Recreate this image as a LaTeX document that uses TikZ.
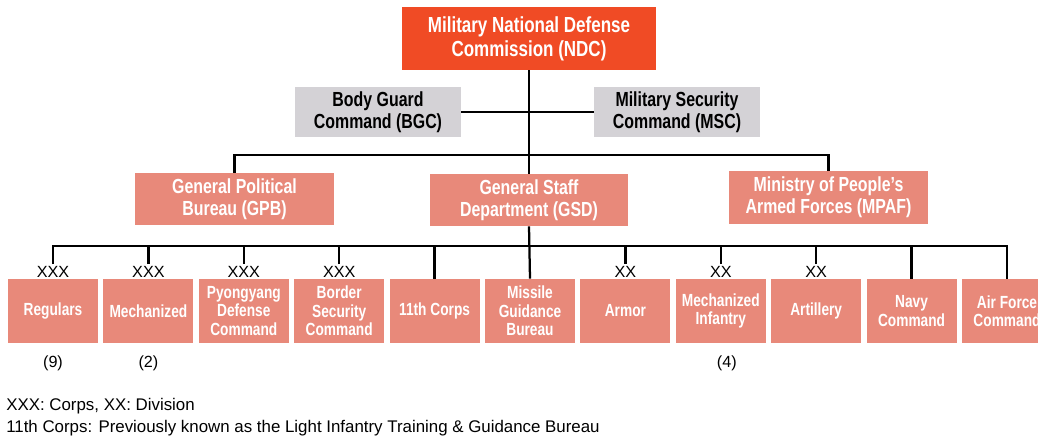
\documentclass[tikz,border=0pt]{standalone}
\usepackage{fontspec}
\setmainfont{Liberation Sans}
\newfontfamily\boxfont[FakeStretch=0.78]{Liberation Sans}
\usetikzlibrary{positioning}

\definecolor{ndcred}{RGB}{240,75,37}
\definecolor{cmdgray}{RGB}{212,210,214}
\definecolor{unitpink}{RGB}{232,137,122}

\begin{document}
\begin{tikzpicture}[x=0.025cm, y=-0.025cm,
    ndcbox/.style={fill=ndcred, text=white, inner sep=0pt, align=center,
      minimum width=6.325cm, minimum height=1.575cm,
      font=\boxfont\bfseries\fontsize{15.5}{17}\selectfont},
    cmdbox/.style={fill=cmdgray, text=black, inner sep=0pt, align=center,
      minimum width=4.15cm, minimum height=1.25cm,
      font=\boxfont\bfseries\fontsize{14.5}{15.5}\selectfont},
    deptbox/.style={fill=unitpink, text=white, inner sep=0pt, align=center,
      minimum width=4.95cm, minimum height=1.3cm,
      font=\boxfont\bfseries\fontsize{14.5}{15.5}\selectfont},
    unitbox/.style={fill=unitpink, text=white, inner sep=0pt, align=center,
      minimum width=2.25cm, minimum height=1.6cm,
      font=\boxfont\bfseries\fontsize{12.5}{13.2}\selectfont},
    rank/.style={inner sep=1pt, font=\fontsize{11.5}{13}\selectfont},
    note/.style={inner sep=0pt, anchor=base west, font=\fontsize{12}{14}\selectfont},
    link/.style={line width=1.6pt}]
  \useasboundingbox (0,0) rectangle (1038,439);

  % Top of the chart
  \node[ndcbox] (ndc) at (529,38.5) {Military National Defense\\Commission (NDC)};
  \node[cmdbox] (bgc) at (378,112) {Body Guard\\Command (BGC)};
  \node[cmdbox] (msc) at (677,112) {Military Security\\Command (MSC)};

  % Second level
  \node[deptbox] (gpb) at (234.5,199) {General Political\\Bureau (GPB)};
  \node[deptbox] (gsd) at (529,200) {General Staff\\Department (GSD)};
  \node[deptbox] (mpaf) at (828.5,197.5) {Ministry of People’s\\Armed Forces (MPAF)};

  \coordinate (bar2) at (529,155);
  \coordinate (bar3) at (529,246);

  % Units
  \foreach [count=\i from 0] \name/\txt in {reg/Regulars, mech/Mechanized,
      pyd/{Pyongyang\\Defense\\Command}, bsc/{Border\\Security\\Command},
      corps/11th Corps, mgb/{Missile\\Guidance\\Bureau}, armor/Armor,
      mechinf/{Mechanized\\Infantry}, arty/Artillery, navy/{Navy\\Command},
      airforce/{Air Force\\Command}}
    \node[unitbox] (\name) at (53+95.4*\i,311) {\txt};

  % Corps and division marks
  \foreach \name/\mark in {reg/XXX, mech/XXX, pyd/XXX, bsc/XXX,
      armor/XX, mechinf/XX, arty/XX}
    \node[rank, anchor=south] (r\name) at (\name.north) {\mark};

  \node[rank, below=0.28cm of reg] (nreg) {(9)};
  \node[rank, below=0.28cm of mech] (nmech) {(2)};
  \node[rank, below=0.28cm of mechinf, xshift=0.15cm] (nmechinf) {(4)};

  % Connectors
  \draw[link] (ndc.south) -- (gsd.north);
  \draw[link] (bgc.east) -- (msc.west);
  \draw[link] (gpb.north) |- (bar2);
  \draw[link] (mpaf.north) |- (bar2);
  \draw[link] (gsd.south) -- (mgb.north);
  \foreach \name in {rreg, rmech, rpyd, rbsc, corps, rarmor, rmechinf, rarty, navy, airforce}
    \draw[link] (\name.north) |- (bar3);

  % Key
  \node[note] (key) at (6,410) {XXX: Corps, XX: Division};
  \node[note] (fn) at (6,432) {11th Corps: Previously known as the Light Infantry Training \& Guidance Bureau};
\end{tikzpicture}
\end{document}
